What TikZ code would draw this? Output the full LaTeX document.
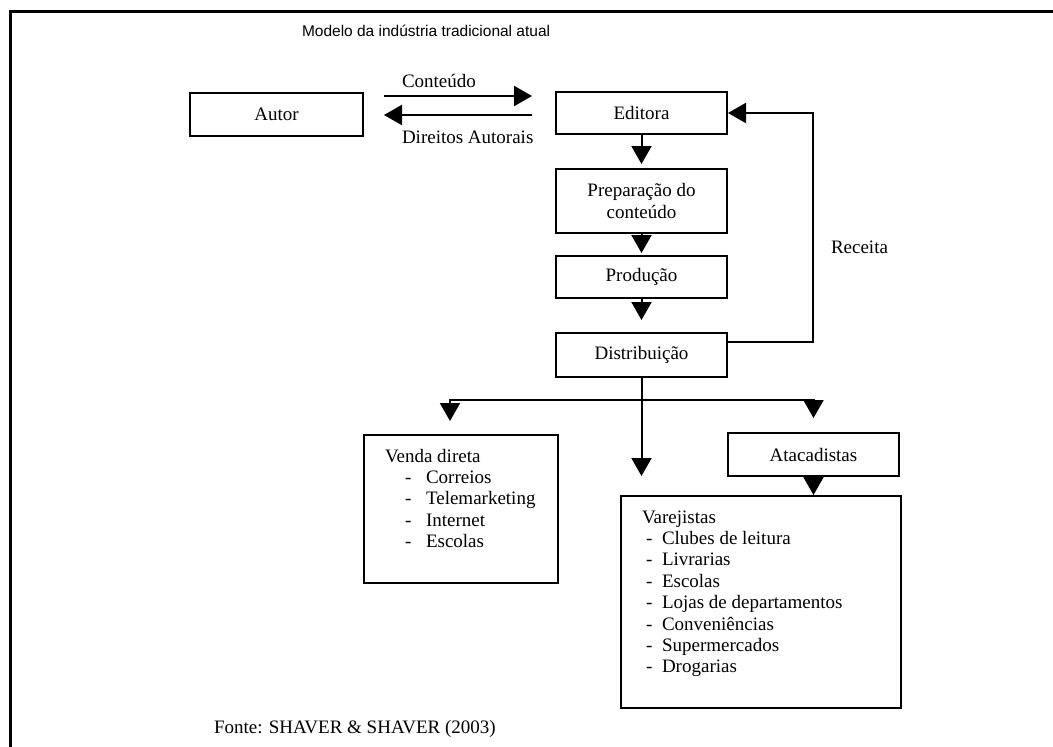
\documentclass[tikz,border=0pt]{standalone}
\usepackage{fontspec}
\setmainfont{Liberation Serif}
\setsansfont{Liberation Sans}
\usetikzlibrary{positioning,arrows.meta}

% list lines of the two big boxes
\newcommand{\vitem}[1]{\\\hspace*{41pt}-\hspace*{14.7pt}#1}
\newcommand{\ritem}[1]{\\\hspace*{25pt}-\hspace*{9.7pt}#1}

\begin{document}
\begin{tikzpicture}[x=1pt,y=-1pt,line width=2pt,>={Triangle[length=18pt,width=20pt]},
  box/.style={draw,rectangle,minimum width=171pt,minimum height=42pt,inner sep=2pt,align=center,font=\fontsize{19}{21.4}\selectfont},
  lbl/.style={inner sep=0pt,anchor=base west,font=\fontsize{19}{21.4}\selectfont},
  listbox/.style={draw,rectangle,inner sep=0pt,font=\fontsize{19}{21.4}\selectfont}]

  \useasboundingbox (0,0) rectangle (1053,747);
  \draw[line width=3pt] (1053,11) -- (10,11) -- (10,747);

  \node[inner sep=0pt,anchor=base west,font=\sffamily\fontsize{15.5}{18}\selectfont] (title) at (301,36) {Modelo da indústria tradicional atual};

  \node[box,minimum width=173pt,minimum height=43pt] (autor) at (276.5,114.5) {Autor};
  \node[box] (editora) at (641.5,113) {Editora};
  \node[box,minimum height=64pt,below=33pt of editora] (prep) {Preparação do\\conteúdo};
  \node[box,below=21pt of prep] (prod) {Produção};
  \node[box,minimum height=44pt,below=33pt of prod] (dist) {Distribuição};
  \node[box,minimum height=43pt] (atac) at (813.5,454.5) {Atacadistas};

  \node[listbox] (venda) at (461,509) {\parbox[c][148pt][t]{194pt}{\vspace*{13pt}\hspace*{21pt}\rule{0pt}{14pt}Venda direta%
    \vitem{Correios}\vitem{Telemarketing}\vitem{Internet}\vitem{Escolas}}};
  \node[listbox] (varej) at (761,602) {\parbox[c][212pt][t]{280pt}{\vspace*{13pt}\hspace*{21pt}\rule{0pt}{14pt}Varejistas%
    \ritem{Clubes de leitura}\ritem{Livrarias}\ritem{Escolas}\ritem{Lojas de departamentos}%
    \ritem{Conveniências}\ritem{Supermercados}\ritem{Drogarias}}};

  \node[lbl] (cont) at (401,87) {Conteúdo};
  \node[lbl] (dir) at (401,143) {Direitos Autorais};
  \node[lbl] (receita) at (830,253) {Receita};
  \node[lbl] (fonte) at (213,733) {Fonte: SHAVER \& SHAVER (2003)};

  % autor <-> editora
  \draw[->,shorten <=20pt,shorten >=23pt] ([yshift=18.5pt]autor.east) -- ([yshift=18.5pt]autor.east -| editora.west);
  \draw[->,shorten <=23pt,shorten >=20pt] ([yshift=-2pt]editora.west) -- ([yshift=-2pt]editora.west -| autor.east);

  % main column
  \draw[->,shorten >=4pt] (editora) -- (prep);
  \draw[->,shorten >=2pt] (prep) -- (prod);
  \draw[->,shorten >=12pt] (prod) -- (dist);
  \coordinate (rc) at (813,0);
  \draw[->] ([yshift=13pt]dist.east) -| (rc |- editora.east) -- (editora.east);

  % branches
  \coordinate (jn) at ([yshift=-22pt]dist.south);
  \draw (dist) -- (jn);
  \draw[->] (jn) -| ([shift={(-11pt,13pt)}]venda.north);
  \draw[->] (jn) -| ([yshift=14pt]atac.north);
  \draw[->] (jn) -- ([yshift=19pt]varej.north -| jn);
  \draw[->] (atac) -- (varej.north -| atac);
\end{tikzpicture}
\end{document}
